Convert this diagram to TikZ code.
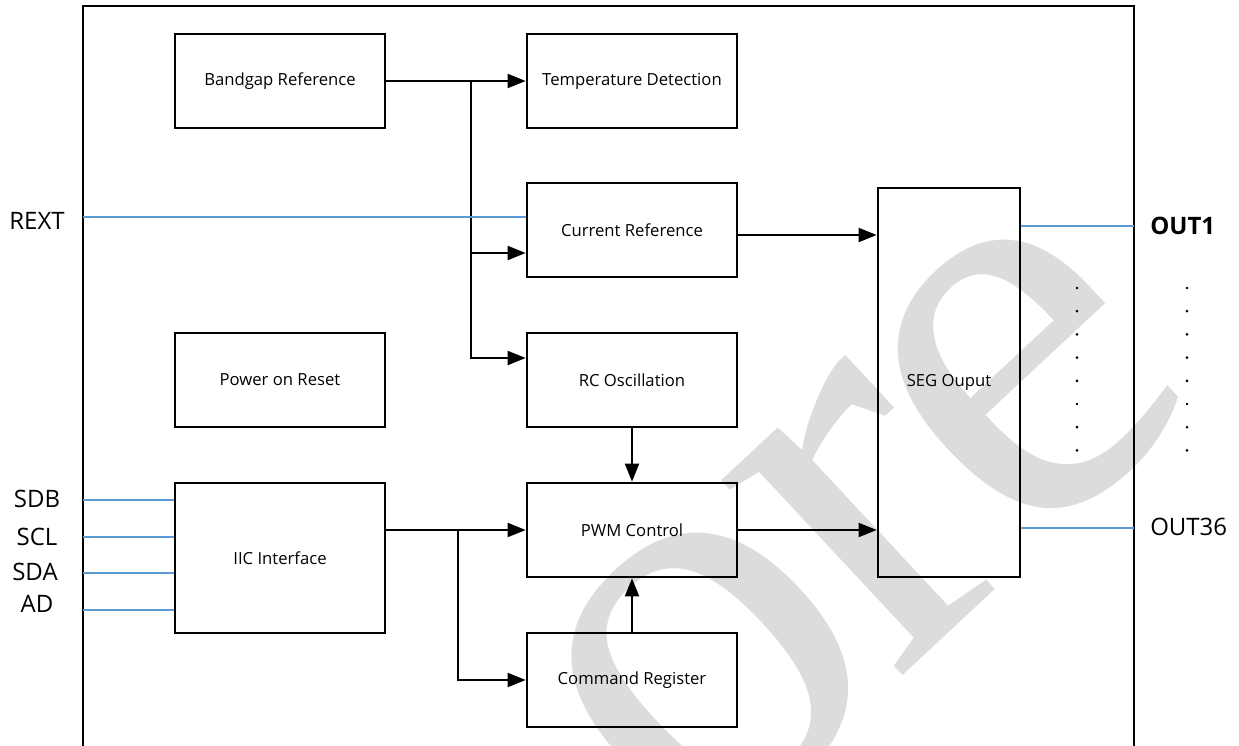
\documentclass[tikz,border=0pt]{standalone}
\usepackage{fontspec}
\setmainfont{Open Sans}
\newfontfamily\wmfont{Liberation Serif}
\usetikzlibrary{arrows.meta,calc}
\definecolor{pinblue}{RGB}{91,155,213}
\definecolor{wmgray}{RGB}{220,220,220}
\begin{document}
\begin{tikzpicture}[x=0.75pt,y=-0.75pt,
  blk/.style={draw, line width=2pt, minimum width=157.5pt, minimum height=70.5pt, inner sep=0pt, font=\fontsize{12.5}{14}\selectfont},
  conn/.style={line width=1.5pt, -{Triangle[length=13.5pt,width=10.5pt]}},
  wire/.style={line width=1.5pt},
  pin/.style={line width=1.6pt, pinblue},
  pinlab/.style={font=\fontsize{18}{20}\selectfont, inner sep=0pt},
  dotmark/.style={circle, fill=black, inner sep=0pt, minimum size=2.2pt}]
\useasboundingbox (0,0) rectangle (1239,746);
\clip (0,0) rectangle (1239,746);
\fill[white] (0,0) rectangle (1239,746);
% watermark
\node[wmgray, rotate=43, anchor=base west, inner sep=0pt] (wm) at (695,870) {\wmfont\fontsize{435}{435}\selectfont o\kern-13pt r\kern-13pt e};
% frame
\draw[line width=1.9pt] (83,760) -- (83,6) -- (1134,6) -- (1134,760);
% blocks
\node[blk] (bg)  at (280,81)  {Bandgap Reference};
\node[blk] (td)  at (632,81)  {Temperature Detection};
\node[blk] (cr)  at (632,230) {Current Reference};
\node[blk] (rc)  at (632,380) {RC Oscillation};
\node[blk] (por) at (280,380) {Power on Reset};
\node[blk] (pwm) at (632,530) {PWM Control};
\node[blk] (cmd) at (632,680) {Command Register};
\node[blk, minimum height=112.5pt] (iic) at (280,558) {IIC Interface};
\node[blk, minimum width=106.5pt, minimum height=291.75pt] (seg) at (949,382.5) {SEG Ouput};
% junctions
\coordinate (j1) at (471,81);
\coordinate (j2) at (458,530);
% connectors
\draw[conn] (bg.east) -- (td.west);
\draw[conn] (j1) |- ($(rc.west)+(0,-22)$);
\draw[conn] (j1 |- 0,253) -- ($(cr.west)+(0,23)$);
\draw[conn] ($(cr.east)+(0,5)$) -- ($(seg.west |- cr.east)+(0,5)$);
\draw[conn] (rc.south) -- (pwm.north);
\draw[conn] (iic.east |- pwm.west) -- (pwm.west);
\draw[conn] (j2) |- (cmd.west);
\draw[conn] (cmd.north) -- (pwm.south);
\draw[conn] (pwm.east) -- (seg.west |- pwm.east);
% pins
\coordinate (fl) at (83,0);
\coordinate (fr) at (1134,0);
\draw[pin] (fl |- 0,217) -- ($(cr.west)+(0,-13)$);
\draw[pin] (fl |- 0,500) -- (iic.west |- 0,500);
\draw[pin] (fl |- 0,537) -- (iic.west |- 0,537);
\draw[pin] (fl |- 0,573) -- (iic.west |- 0,573);
\draw[pin] (fl |- 0,610) -- (iic.west |- 0,610);
\draw[pin] (seg.east |- 0,226) -- (fr |- 0,226);
\draw[pin] (seg.east |- 0,528) -- (fr |- 0,528);
% pin labels
\node[pinlab] (lrext) at (37,221) {REXT};
\node[pinlab] (lsdb) at (37,499) {SDB};
\node[pinlab] (lscl) at (37,537) {SCL};
\node[pinlab] (lsda) at (35,572) {SDA};
\node[pinlab] (lad) at (37,604) {AD};
\node[pinlab, anchor=west] (lout1) at (1150,226) {\bfseries OUT1};
\node[pinlab, anchor=west] (lout36) at (1150,527) {OUT36};
% dots
\foreach \i in {0,...,7} {
  \node[dotmark] (da\i) at (1077,{288+\i*23.2}) {};
  \node[dotmark] (db\i) at (1187,{288+\i*23.2}) {};
}
\end{tikzpicture}
\end{document}
